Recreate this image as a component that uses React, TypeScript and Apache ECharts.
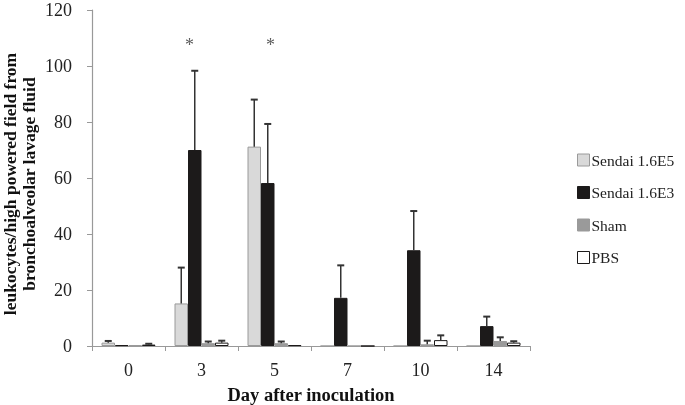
import React, { useEffect, useRef } from "react";
import * as echarts from "echarts";

const categories = ["0", "3", "5", "7", "10", "14"];
const seriesNames = ["Sendai 1.6E5", "Sendai 1.6E3", "Sham", "PBS"];
const sendaiE5 = [1.2, 15.2, 71.2, 0, 0, 0];
const sendaiE5Err = [1.8, 28.0, 88.0, 0, 0, 0];
const sendaiE3 = [0.3, 70.0, 58.2, 17.2, 34.2, 7.1];
const sendaiE3Err = [0.3, 98.3, 79.3, 28.8, 48.2, 10.5];
const sham = [0.3, 1.0, 1.0, 0, 0.6, 1.8];
const shamErr = [0.3, 1.6, 1.6, 0, 1.9, 3.1];
const pbs = [0.5, 1.2, 0.3, 0, 2.1, 1.2];
const pbsErr = [0.8, 1.9, 0.3, 0, 3.8, 1.7];
const significant = [1, 2];
const significantOffsetX = [-12, -4];
const yTicks = [0, 20, 40, 60, 80, 100, 120];

const values = [sendaiE5, sendaiE3, sham, pbs];
const errs = [sendaiE5Err, sendaiE3Err, shamErr, pbsErr];
const fills = ["#d9d9d9", "#1c1a1a", "#9a9a9a", "#ffffff"];
const borders = ["#9a9a9a", "#1c1a1a", "#9a9a9a", "#1c1a1a"];

const BAR_W = 13.5;
const FONT = "'Liberation Serif', 'Times New Roman', serif";

export default function App() {
  const ref = useRef<HTMLDivElement>(null);
  useEffect(() => {
    if (!ref.current) return;
    const chart = echarts.init(ref.current, null, { renderer: "svg" });
    const barSeries = seriesNames.map((name, i) => ({
      name,
      type: "bar",
      data: values[i],
      barWidth: BAR_W,
      barGap: "0%",
      itemStyle: { color: fills[i], borderColor: borders[i], borderWidth: 1 },
      z: 2,
    }));
    const errSeries = seriesNames.map((name, i) => ({
      name: name + "-err",
      type: "custom",
      z: 3,
      silent: true,
      data: values[i].map((v, k) => [k, v, errs[i][k]]),
      renderItem: (params: any, api: any) => {
        const v = api.value(1);
        const e = api.value(2);
        if (e <= v) return null;
        const base = api.coord([api.value(0), v]);
        const top = api.coord([api.value(0), e]);
        const x = base[0] + (i - 1.5) * BAR_W;
        const style = { stroke: "#333333", lineWidth: 1.5 };
        return {
          type: "group",
          children: [
            { type: "line", shape: { x1: x, y1: base[1], x2: x, y2: top[1] }, style },
            { type: "line", shape: { x1: x - 3.5, y1: top[1], x2: x + 3.5, y2: top[1] }, style: { stroke: "#333333", lineWidth: 2 } },
          ],
        };
      },
    }));
    chart.setOption({
      animation: false,
      grid: { left: 92, right: 155, top: 10, bottom: 59, outerBoundsMode: "none", containLabel: false },
      legend: {
        orient: "vertical",
        left: 572,
        top: 147,
        itemWidth: 12,
        itemHeight: 12,
        itemGap: 16.5,
        icon: "rect",
        data: seriesNames.map((n, i) => ({
          name: n,
          itemStyle: { color: fills[i], borderColor: borders[i], borderWidth: 1 },
        })),
        textStyle: { fontFamily: FONT, fontSize: 15.5, color: "#222", padding: [0, 0, 0, -3] },
      },
      xAxis: {
        type: "category",
        data: categories,
        name: "Day after inoculation",
        nameLocation: "middle",
        nameGap: 39,
        nameMoveOverlap: false,
        nameTextStyle: { fontFamily: FONT, fontSize: 18.5, fontWeight: "bold", color: "#111" },
        axisLine: { lineStyle: { color: "#999", width: 1.2 } },
        axisTick: { show: true, length: 5, lineStyle: { color: "#999" } },
        axisLabel: { fontFamily: FONT, fontSize: 18, color: "#222", margin: 15 },
      },
      yAxis: {
        type: "value",
        min: 0,
        max: yTicks[yTicks.length - 1],
        interval: 20,
        name: "leukocytes/high powered field from\nbronchoalveolar lavage fluid",
        nameLocation: "middle",
        nameGap: 54,
        nameMoveOverlap: false,
        nameTextStyle: { fontFamily: FONT, fontSize: 17.5, fontWeight: "bold", color: "#111", lineHeight: 19, padding: [0, 12, 0, 0] },
        axisLine: { show: true, lineStyle: { color: "#999", width: 1.2 } },
        axisTick: { show: true, length: 5, lineStyle: { color: "#999" } },
        splitLine: { show: false },
        axisLabel: { fontFamily: FONT, fontSize: 18, color: "#222", margin: 20 },
      },
      series: [
        ...barSeries,
        ...errSeries,
        {
          name: "sig",
          type: "scatter",
          symbolSize: 0,
          silent: true,
          data: significant.map((k, j) => ({
            value: [k, 107.5],
            label: { offset: [significantOffsetX[j], 0] },
          })),
          label: {
            show: true,
            formatter: "*",
            position: "inside",
            fontFamily: FONT,
            fontSize: 18,
            color: "#333",
          },
        },
      ],
    });
    return () => chart.dispose();
  }, []);
  return <div ref={ref} style={{ position: "fixed", left: 0, top: 0, width: 685, height: 405 }} />;
}
